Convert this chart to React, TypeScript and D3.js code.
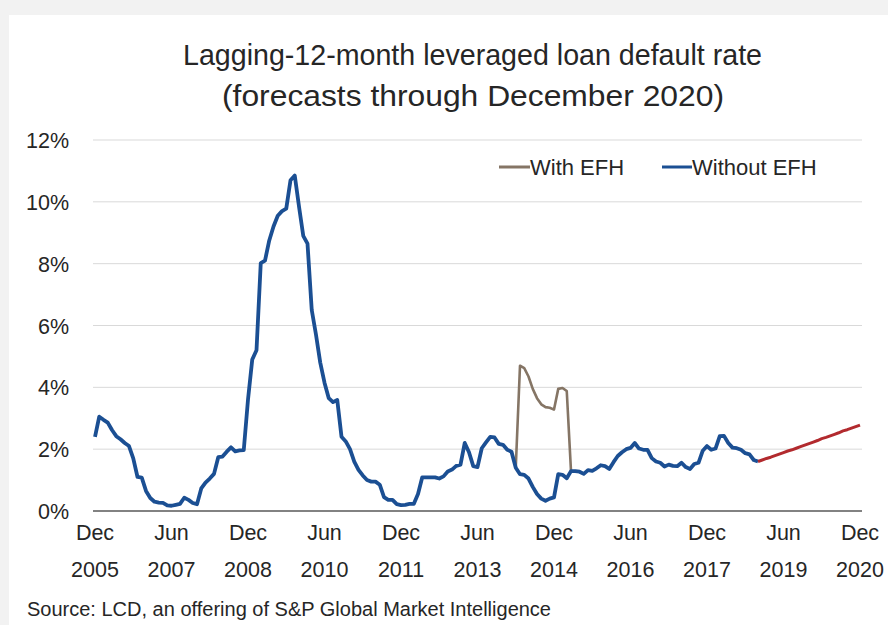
import React from "react";
import * as d3 from "d3";

// Monthly values, index 0 = Dec 2005
const withoutEFH: number[] = [
  2.4, 3.05, 2.95, 2.86, 2.62, 2.42, 2.32, 2.2, 2.1, 1.7,
  1.1, 1.08, 0.65, 0.42, 0.3, 0.27, 0.26, 0.18, 0.17, 0.2,
  0.23, 0.43, 0.36, 0.26, 0.22, 0.73, 0.92, 1.05, 1.2, 1.74,
  1.76, 1.92, 2.06, 1.93, 1.96, 1.97, 3.6, 4.9, 5.2, 8.02,
  8.1, 8.75, 9.2, 9.55, 9.7, 9.78, 10.7, 10.85, 9.85, 8.9,
  8.65, 6.5, 5.7, 4.8, 4.15, 3.65, 3.52, 3.59, 2.4, 2.25,
  2.0, 1.6, 1.33, 1.15, 1.0, 0.95, 0.95, 0.85, 0.45, 0.36,
  0.36, 0.22, 0.19, 0.2, 0.23, 0.23, 0.55, 1.09, 1.09, 1.09,
  1.09, 1.05, 1.12, 1.28, 1.34, 1.46, 1.5, 2.2, 1.9, 1.45,
  1.42, 2.03, 2.22, 2.4, 2.38, 2.17, 2.14, 1.98, 1.92, 1.4,
  1.19, 1.17, 1.05, 0.78, 0.55, 0.4, 0.33, 0.4, 0.44, 1.19,
  1.17, 1.06, 1.29, 1.29, 1.27, 1.2, 1.32, 1.3, 1.38, 1.48,
  1.45, 1.36, 1.58, 1.78, 1.9, 2.0, 2.04, 2.2, 2.02, 1.98,
  1.98, 1.71, 1.6, 1.56, 1.44, 1.5, 1.46, 1.45, 1.56, 1.42,
  1.36, 1.52, 1.56, 1.95, 2.1, 1.98, 2.02, 2.42, 2.43, 2.2,
  2.05, 2.03, 1.98, 1.87, 1.83, 1.65, 1.6,
];

// With EFH differs from month index 99 to 112
const withEFHStart = 99;
const withEFH: number[] = [
  1.4, 4.7, 4.62, 4.35, 3.95, 3.65, 3.45, 3.36, 3.34, 3.28, 3.95, 3.98, 3.88, 1.29,
];

// Forecast, starting at month index 156
const forecastStart = 156;
const forecast: number[] = [
  1.6, 1.65, 1.7, 1.74, 1.79, 1.84, 1.89, 1.94, 1.98, 2.03, 2.08, 2.13, 2.18,
  2.23, 2.28, 2.34, 2.38, 2.43, 2.48, 2.53, 2.59, 2.63, 2.68, 2.73, 2.78,
];

const xTickMonths = [0, 18, 36, 54, 72, 90, 108, 126, 144, 162, 180];
const xTickLabels: [string, string][] = [
  ["Dec", "2005"], ["Jun", "2007"], ["Dec", "2008"], ["Jun", "2010"],
  ["Dec", "2011"], ["Jun", "2013"], ["Dec", "2014"], ["Jun", "2016"],
  ["Dec", "2017"], ["Jun", "2019"], ["Dec", "2020"],
];
const yTicks = [0, 2, 4, 6, 8, 10, 12];

const FONT = "'Liberation Sans', Arial, sans-serif";
const TEXT = "#262626";

export default function App() {
  const x = d3.scaleLinear().domain([0, 180]).range([95, 860]);
  const y = d3.scaleLinear().domain([0, 12]).range([511, 140]);
  const line = d3
    .line<[number, number]>()
    .x((d) => x(d[0]))
    .y((d) => y(d[1]));

  const blue = withoutEFH.map((v, i) => [i, v] as [number, number]);
  const brown = withEFH.map((v, i) => [i + withEFHStart, v] as [number, number]);
  const red = forecast.map((v, i) => [i + forecastStart, v] as [number, number]);

  return (
    <svg
      width={888}
      height={625}
      style={{ position: "absolute", left: 0, top: 0 }}
      fontFamily={FONT}
    >
      <rect x={0} y={0} width={888} height={625} fill="#f2f2f2" />
      <rect x={9} y={15} width={879} height={610} fill="#ffffff" />

      <text x={183} y={65} fontSize={29} fill={TEXT} textLength={579} lengthAdjust="spacingAndGlyphs">
        Lagging-12-month leveraged loan default rate
      </text>
      <text x={222} y={106} fontSize={29} fill={TEXT} textLength={502} lengthAdjust="spacingAndGlyphs">
        (forecasts through December 2020)
      </text>

      {yTicks.map((t) => (
        <g key={t}>
          {t > 0 && (
            <line x1={93} x2={862} y1={y(t)} y2={y(t)} stroke="#d9d9d9" strokeWidth={1} />
          )}
          <text x={69} y={y(t) + 8} textAnchor="end" fontSize={21.5} fill={TEXT}>
            {t}%
          </text>
        </g>
      ))}
      <line x1={93} x2={862} y1={y(0)} y2={y(0)} stroke="#595959" strokeWidth={1.5} />

      {xTickMonths.map((m, i) => (
        <g key={m}>
          <text x={x(m)} y={540} textAnchor="middle" fontSize={21.5} fill={TEXT}>
            {xTickLabels[i][0]}
          </text>
          <text x={x(m)} y={577} textAnchor="middle" fontSize={21.5} fill={TEXT}>
            {xTickLabels[i][1]}
          </text>
        </g>
      ))}

      <path d={line(brown) || ""} fill="none" stroke="#857565" strokeWidth={2.6} strokeLinejoin="round" />
      <path d={line(blue) || ""} fill="none" stroke="#1b4f93" strokeWidth={3.8} strokeLinejoin="round" />
      <path d={line(red) || ""} fill="none" stroke="#b22a2e" strokeWidth={3} strokeLinejoin="round" />

      <line x1={499} x2={530} y1={167} y2={167} stroke="#857565" strokeWidth={3} />
      <text x={530} y={175} fontSize={22} fill={TEXT}>With EFH</text>
      <line x1={662} x2={692} y1={167} y2={167} stroke="#1b4f93" strokeWidth={3} />
      <text x={692} y={175} fontSize={22} fill={TEXT}>Without EFH</text>

      <text x={27} y={616} fontSize={20} fill={TEXT}>
        Source: LCD, an offering of S&amp;P Global Market Intelligence
      </text>
    </svg>
  );
}
